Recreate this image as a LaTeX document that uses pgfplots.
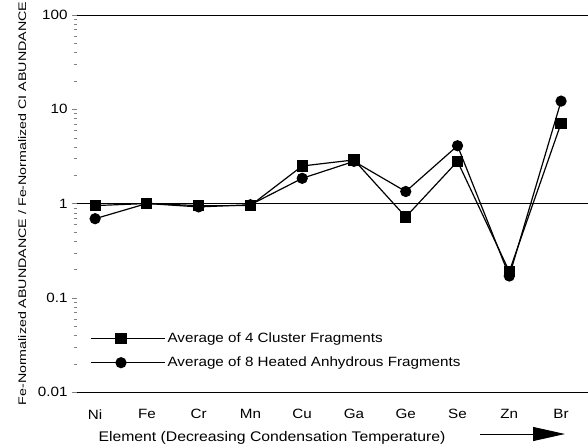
\documentclass[border=0pt]{standalone}
\usepackage{fontspec}
\setmainfont{Liberation Sans}[FakeStretch=1.13]
\newfontfamily\widefont{Liberation Sans}[FakeStretch=1.3]
\usepackage{pgfplots}
\pgfplotsset{compat=1.18}
\usetikzlibrary{calc, arrows.meta}

\begin{document}
\begin{tikzpicture}
\begin{axis}[
    scale only axis,
    width=511bp, height=377bp,
    ymode=log, ymin=0.01, ymax=100,
    xmin=-0.35, xmax=9.52,
    xtick={0,...,9},
    xticklabels={Ni,Fe,Cr,Mn,Cu,Ga,Ge,Se,Zn,Br},
    major x tick style={draw=none},
    ytick={0.01,0.1,1,10,100},
    yticklabels={0.01,0.1,1,10,100},
    ytick pos=left,
    tick align=outside,
    major tick length=5bp, minor tick length=3bp,
    separate axis lines,
    y axis line style={draw=none},
    x axis line style={line width=0.8pt},
    tick label style={font=\fontsize{13.5}{16}\selectfont},
    xticklabel style={yshift=-9bp},
    yticklabel style={xshift=-1bp},
    ylabel={Fe-Normalized ABUNDANCE / Fe-Normalized CI ABUNDANCE},
    ylabel style={font=\widefont\fontsize{11}{12}\selectfont,
        at={(axis description cs:-0.107,0.5)}, anchor=center},
    clip=false,
    legend style={at={(0.02,0.168)}, anchor=north west, draw=none, fill=none,
        font=\fontsize{13.5}{16}\selectfont, row sep=9bp},
    legend cell align=left,
    legend image code/.code={
        \draw[#1, mark repeat=2, mark phase=2] plot coordinates {(0bp,0bp) (30bp,0bp) (60bp,0bp)};
        \path (0bp,0bp) -- (74bp,0bp);
    },
]
\addplot[black, line width=1.2pt, mark=square*, mark size=5bp] coordinates {
    (0,0.95) (1,1.0) (2,0.95) (3,0.95) (4,2.5) (5,2.9) (6,0.72) (7,2.8) (8,0.19) (9,7.1)
};
\addlegendentry{Average of 4 Cluster Fragments}
\addplot[black, line width=1.2pt, mark=*, mark size=5bp] coordinates {
    (0,0.69) (1,1.0) (2,0.92) (3,0.97) (4,1.85) (5,2.8) (6,1.34) (7,4.1) (8,0.17) (9,12.2)
};
\addlegendentry{Average of 8 Heated Anhydrous Fragments}
\addplot[black, line width=0.8pt, forget plot] coordinates {(-0.35,1) (9.52,1)};
\end{axis}
\node[font=\fontsize{14}{16}\selectfont, anchor=base west] at ($(current axis.south west)+(18bp,-49bp)$)
    {Element (Decreasing Condensation Temperature)};
\draw[line width=1pt, -{Triangle[length=32bp, width=14bp]}]
    ($(current axis.south west)+(403bp,-42bp)$) -- ($(current axis.south west)+(488bp,-42bp)$);
\pgfresetboundingbox
\path[use as bounding box] ($(current axis.south west)+(-77bp,-56bp)$) rectangle ($(current axis.north east)+(0bp,15bp)$);
\end{tikzpicture}
\end{document}
